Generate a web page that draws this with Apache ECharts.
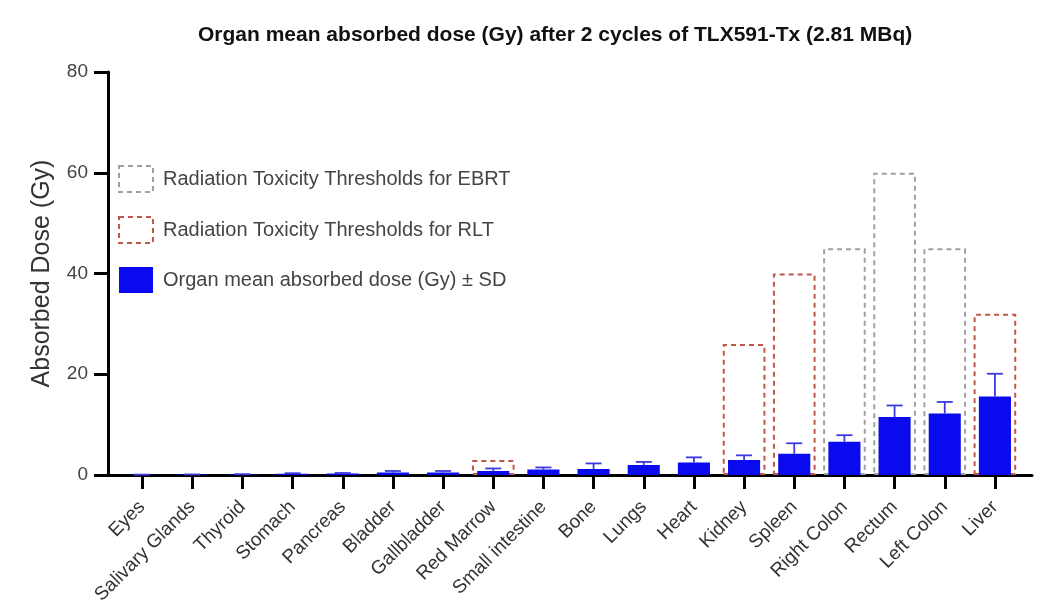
<!DOCTYPE html>
<html>
<head>
<meta charset="utf-8">
<script src="https://cdn.jsdelivr.net/npm/echarts@6/dist/echarts.min.js"></script>
<style>
    html, body { margin: 0; padding: 0; background: #fff; }
    #chart { width: 1064px; height: 616px; }
</style>
</head>
<body>
<div id="chart"></div>
<script>
// data
const organs = ['Eyes', 'Salivary Glands', 'Thyroid', 'Stomach', 'Pancreas', 'Bladder', 'Gallbladder',
    'Red Marrow', 'Small intestine', 'Bone', 'Lungs', 'Heart', 'Kidney', 'Spleen', 'Right Colon',
    'Rectum', 'Left Colon', 'Liver']
const meanDose = [0.05, 0.08, 0.12, 0.25, 0.3, 0.5, 0.5, 0.8, 1.1, 1.2, 2.0, 2.5, 3.0, 4.2, 6.6, 11.5, 12.2, 15.6]
const sdDose = [0.02, 0.03, 0.05, 0.1, 0.1, 0.3, 0.3, 0.5, 0.4, 1.1, 0.6, 1.0, 0.9, 2.1, 1.3, 2.3, 2.3, 4.5]
const ebrtLimit = ['-', '-', '-', '-', '-', '-', '-', '-', '-', '-', '-', '-', '-', '-', 45, 60, 45, '-']
const rltLimit = ['-', '-', '-', '-', '-', '-', '-', 3, '-', '-', '-', '-', 26, 40, '-', '-', '-', 32]
const yTicks = [0, 20, 40, 60, 80]

const names = {
    ebrt: 'Radiation Toxicity Thresholds for EBRT',
    rlt: 'Radiation Toxicity Thresholds for RLT',
    dose: 'Organ mean absorbed dose (Gy) ± SD',
}

const blue = '#0a0aee'
const gray = '#a0a0a0'
const red = '#c0574a'
const font = 'Arial, "Liberation Sans", sans-serif'

const errorBar = function(params, api) {
    const x = api.value(0)
    const top = api.coord([x, api.value(2)])
    const base = api.coord([x, api.value(1)])
    const half = 8
    const style = { stroke: '#3a3ae0', lineWidth: 1.8 }
    return {
        type: 'group',
        children: [
            { type: 'line', shape: { x1: base[0], y1: base[1], x2: top[0], y2: top[1] }, style: style },
            { type: 'line', shape: { x1: top[0] - half, y1: top[1], x2: top[0] + half, y2: top[1] }, style: style },
        ],
    }
}

const buildOption = function() {
    const errData = meanDose.map((v, i) => [i, v, v + sdDose[i]])
    const boxStyle = function(c) {
        return {
            color: 'rgba(0,0,0,0)',
            borderColor: c,
            borderWidth: 2,
            borderType: [5, 4],
        }
    }
    const option = {
        animation: false,
        textStyle: { fontFamily: font },
        title: {
            text: 'Organ mean absorbed dose (Gy) after 2 cycles of TLX591-Tx (2.81 MBq)',
            left: 193,
            top: 20,
            textStyle: { fontSize: 21, fontWeight: 'bold', color: '#111', fontFamily: font },
        },
        legend: {
            orient: 'vertical',
            left: 113,
            top: 160,
            itemWidth: 34,
            itemHeight: 26,
            itemGap: 23,
            textStyle: { fontSize: 20, color: '#444', fontFamily: font, padding: [0, 0, 0, 5] },
            data: [
                { name: names.ebrt, icon: 'rect', itemStyle: boxStyle(gray) },
                { name: names.rlt, icon: 'rect', itemStyle: boxStyle(red) },
                { name: names.dose, icon: 'rect', itemStyle: { color: blue } },
            ],
        },
        grid: [
            { left: 108, right: 32, top: 72, bottom: 141 },
            { left: 117, right: 44, top: 72, bottom: 141 },
        ],
        xAxis: [
            {
                gridIndex: 0, type: 'value', min: 0, max: 1,
                axisLine: { show: true, lineStyle: { color: '#000', width: 3 } },
                axisTick: { show: false }, axisLabel: { show: false }, splitLine: { show: false },
            },
            {
                gridIndex: 1, type: 'category', data: organs,
                axisLine: { show: false },
                axisTick: { show: true, alignWithLabel: true, length: 14, lineStyle: { color: '#000', width: 3 } },
                axisLabel: { rotate: 45, fontSize: 19, color: '#333', margin: 29, interval: 0, fontFamily: font },
            },
            {
                gridIndex: 1, type: 'category', data: organs, show: false,
            },
        ],
        yAxis: [
            {
                gridIndex: 0, type: 'value', min: yTicks[0], max: yTicks[yTicks.length - 1], interval: 20,
                name: 'Absorbed Dose (Gy)',
                nameLocation: 'middle',
                nameGap: 53,
                nameTextStyle: { fontSize: 25, color: '#333', fontFamily: font },
                axisLine: { show: true, lineStyle: { color: '#000', width: 3 } },
                axisTick: { show: true, length: 14, lineStyle: { color: '#000', width: 3 } },
                axisLabel: { fontSize: 19, color: '#444', margin: 20, fontFamily: font },
                splitLine: { show: false },
            },
            {
                gridIndex: 1, type: 'value', min: 0, max: 80, show: false, splitLine: { show: false },
            },
        ],
        series: [
            {
                name: names.ebrt, type: 'bar', xAxisIndex: 2, yAxisIndex: 1,
                barWidth: '85%', barGap: '-100%', z: 1,
                itemStyle: boxStyle(gray), data: ebrtLimit,
            },
            {
                name: names.rlt, type: 'bar', xAxisIndex: 2, yAxisIndex: 1,
                barWidth: '85%', barGap: '-100%', z: 1,
                itemStyle: boxStyle(red), data: rltLimit,
            },
            {
                name: names.dose, type: 'bar', xAxisIndex: 1, yAxisIndex: 1,
                barWidth: '64%', z: 2,
                itemStyle: { color: blue }, data: meanDose,
            },
            {
                type: 'custom', xAxisIndex: 1, yAxisIndex: 1, z: 3,
                renderItem: errorBar, data: errData,
            },
        ],
    }
    return option
}

const __main = function() {
    const chart = echarts.init(document.getElementById('chart'))
    chart.setOption(buildOption())
}

__main()
</script>
</body>
</html>
